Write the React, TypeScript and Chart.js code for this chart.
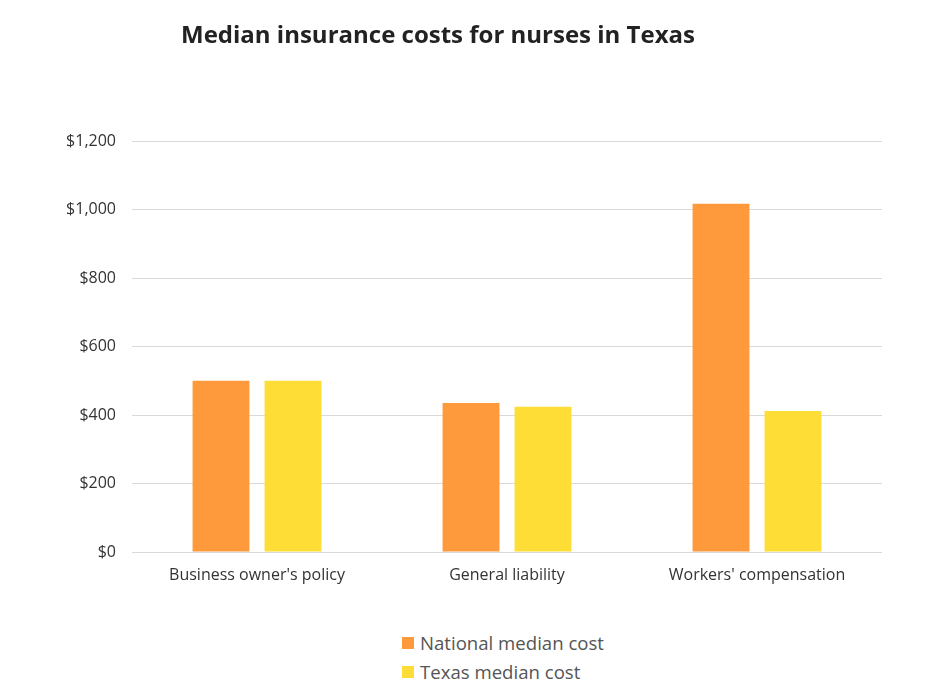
import React, { useEffect, useRef } from "react";
import { Chart, registerables } from "chart.js";

Chart.register(...registerables);

const categories = ["Business owner's policy", "General liability", "Workers' compensation"];
const nationalMedian = [500, 435, 1017];
const texasMedian = [500, 424, 412];
const seriesNames = ["National median cost", "Texas median cost"];
const seriesColors = ["#fe9a3b", "#fede36"];
const titleText = "Median insurance costs for nurses in Texas";

const FONT = "'Open Sans', sans-serif";

export default function App() {
  const ref = useRef<HTMLCanvasElement>(null);
  useEffect(() => {
    if (!ref.current) return;
    const chart = new Chart(ref.current, {
      type: "bar",
      data: {
        labels: categories,
        datasets: [
          { label: seriesNames[0], data: nationalMedian, backgroundColor: seriesColors[0], categoryPercentage: 0.576, barPercentage: 0.79 },
          { label: seriesNames[1], data: texasMedian, backgroundColor: seriesColors[1], categoryPercentage: 0.576, barPercentage: 0.79 },
        ],
      },
      options: {
        animation: false,
        responsive: false,
        layout: { padding: { top: 133, right: 48, left: 0, bottom: 0 } },
        plugins: { legend: { display: false }, title: { display: false }, tooltip: { enabled: false } },
        scales: {
          x: {
            grid: { display: false, drawTicks: false },
            border: { display: false },
            ticks: { color: "#333", font: { family: FONT, size: 16 }, padding: 14 },
            afterFit: (s: any) => { s.height = 56; },
          },
          y: {
            min: 0,
            max: 1200,
            grid: { color: "#dadada", drawTicks: false, lineWidth: 1 },
            border: { display: false },
            ticks: {
              stepSize: 200,
              color: "#333",
              font: { family: FONT, size: 16 },
              padding: 16,
              callback: (v: any) => "$" + Number(v).toLocaleString("en-US"),
            },
            afterFit: (s: any) => { s.width = 124; },
          },
        },
      },
    });
    return () => chart.destroy();
  }, []);

  return (
    <div style={{ position: "relative", width: 922, height: 671, fontFamily: FONT }}>
      <canvas ref={ref} width={922} height={600} style={{ position: "absolute", left: 0, top: 0 }} />
      <div
        style={{
          position: "absolute",
          left: 0,
          width: 860,
          top: 9,
          textAlign: "center",
          fontSize: 24,
          fontWeight: 700,
          color: "#222",
        }}
      >
        {titleText}
      </div>
      {seriesNames.map((name, i) => (
        <div
          key={name}
          style={{
            position: "absolute",
            left: 394,
            top: 623 + i * 29,
            display: "flex",
            alignItems: "center",
            fontSize: 18.6,
            color: "#555",
            lineHeight: "24px",
            whiteSpace: "nowrap",
          }}
        >
          <span style={{ display: "inline-block", width: 12, height: 12, background: seriesColors[i], marginRight: 6 }} />
          {name}
        </div>
      ))}
    </div>
  );
}
